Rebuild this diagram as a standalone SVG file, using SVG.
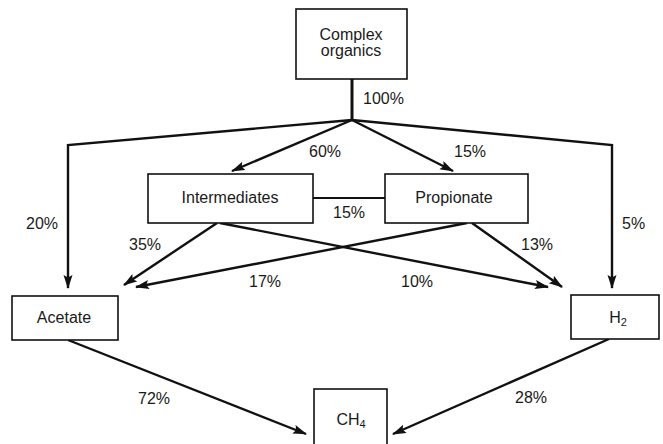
<svg xmlns="http://www.w3.org/2000/svg" width="663" height="444" viewBox="0 0 663 444">
<style>
.box{fill:#fff;stroke:#111;stroke-width:1.6}
.t{font-family:"Liberation Sans",Arial,sans-serif;font-size:16px;fill:#1a1a1a;text-anchor:middle}
.p{font-family:"Liberation Sans",Arial,sans-serif;font-size:16px;fill:#1a1a1a}
.c{fill:none;stroke:#111;stroke-width:2.4;stroke-linejoin:miter}
.a{marker-end:url(#ah)}
</style>
<defs>
<marker id="ah" markerUnits="userSpaceOnUse" markerWidth="14" markerHeight="10" refX="13" refY="4.5" orient="auto">
<path d="M0,0 L14,4.5 L0,9 L2.5,4.5 z" fill="#111"/>
</marker>
</defs>
<rect width="663" height="444" fill="#fff"/>
<g id="connectors">
<line class="c" x1="352" y1="79" x2="352" y2="120" style="stroke-width:3"/>
<polyline class="c a" points="352,120 68,145 68,288"/>
<polyline class="c a" points="352,120 612,145 612,288"/>
<line class="c a" x1="352" y1="120" x2="232" y2="171"/>
<line class="c a" x1="352" y1="120" x2="453" y2="171"/>
<line class="c" x1="313" y1="198" x2="385" y2="198" style="stroke-width:2"/>
<line class="c a" x1="217" y1="223" x2="124" y2="285"/>
<line class="c a" x1="220" y1="223" x2="548" y2="287"/>
<line class="c a" x1="467" y1="223" x2="136" y2="287"/>
<line class="c a" x1="472" y1="223" x2="562" y2="287"/>
<line class="c a" x1="68" y1="340" x2="306" y2="434"/>
<line class="c a" x1="609" y1="339" x2="393" y2="434"/>
</g>
<g id="complex">
<rect class="box" x="296" y="9" width="111" height="70"/>
<text class="t" x="351" y="40">Complex</text>
<text class="t" x="351" y="56">organics</text>
</g>
<g id="intermediates">
<rect class="box" x="148" y="174" width="165" height="49"/>
<text class="t" x="230" y="203">Intermediates</text>
</g>
<g id="propionate">
<rect class="box" x="385" y="174" width="143" height="49"/>
<text class="t" x="454" y="203">Propionate</text>
</g>
<g id="acetate">
<rect class="box" x="12" y="296" width="106" height="44"/>
<text class="t" x="64" y="323">Acetate</text>
</g>
<g id="h2">
<rect class="box" x="571" y="295" width="88" height="44"/>
<text class="t" x="618" y="323">H<tspan font-size="11" dy="3">2</tspan></text>
</g>
<g id="ch4">
<rect class="box" x="314" y="389" width="73" height="60"/>
<text class="t" x="351" y="425">CH<tspan font-size="11" dy="3">4</tspan></text>
</g>
<g id="labels">
<text class="p" x="363" y="104">100%</text>
<text class="p" x="309" y="157">60%</text>
<text class="p" x="454" y="157">15%</text>
<text class="p" x="333" y="218">15%</text>
<text class="p" x="26" y="229">20%</text>
<text class="p" x="622" y="229">5%</text>
<text class="p" x="129" y="250">35%</text>
<text class="p" x="521" y="250">13%</text>
<text class="p" x="249" y="287">17%</text>
<text class="p" x="401" y="287">10%</text>
<text class="p" x="138" y="404">72%</text>
<text class="p" x="515" y="403">28%</text>
</g>
</svg>
